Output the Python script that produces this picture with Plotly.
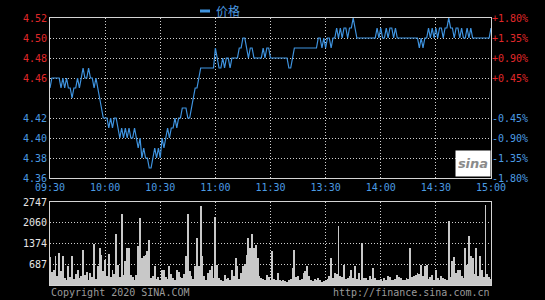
import plotly.graph_objects as go

# ---------------- data ----------------
prev_close = 4.44
time_ticks = [0, 30, 60, 90, 120, 150, 180, 210, 240]
time_labels = ["09:30", "10:00", "10:30", "11:00", "11:30", "13:30", "14:00", "14:30", "15:00"]

price = [
    4.45, 4.46, 4.46, 4.46, 4.46, 4.46, 4.45, 4.46, 4.45, 4.46,
    4.45, 4.45, 4.44, 4.45, 4.45, 4.46, 4.45, 4.46, 4.47, 4.46,
    4.46, 4.47, 4.46, 4.46, 4.45, 4.46, 4.45, 4.44, 4.43, 4.42,
    4.42, 4.42, 4.41, 4.42, 4.41, 4.42, 4.42, 4.41, 4.40, 4.41,
    4.40, 4.41, 4.40, 4.41, 4.40, 4.40, 4.41, 4.40, 4.39, 4.40,
    4.38, 4.39, 4.38, 4.38, 4.37, 4.37, 4.38, 4.39, 4.38, 4.39,
    4.38, 4.40, 4.39, 4.40, 4.41, 4.40, 4.41, 4.41, 4.42, 4.41,
    4.42, 4.42, 4.43, 4.43, 4.43, 4.42, 4.42, 4.43, 4.44, 4.45,
    4.45, 4.46, 4.47, 4.47, 4.47, 4.47, 4.47, 4.47, 4.47, 4.47,
    4.49, 4.48, 4.47, 4.47, 4.48, 4.47, 4.48, 4.48, 4.47, 4.48,
    4.48, 4.48, 4.48, 4.49, 4.49, 4.50, 4.50, 4.49, 4.48, 4.49,
    4.49, 4.48, 4.48, 4.48, 4.48, 4.48, 4.49, 4.48, 4.49, 4.49,
    4.48, 4.48, 4.48, 4.48, 4.48, 4.48, 4.48, 4.48, 4.48, 4.48,
    4.47, 4.47, 4.48, 4.49, 4.49, 4.49, 4.49, 4.49, 4.49, 4.49,
    4.49, 4.49, 4.49, 4.49, 4.49, 4.49, 4.50, 4.50, 4.49, 4.50,
    4.49, 4.50, 4.50, 4.49, 4.50, 4.50, 4.51, 4.50, 4.51, 4.50,
    4.51, 4.51, 4.50, 4.51, 4.51, 4.52, 4.51, 4.50, 4.50, 4.50,
    4.50, 4.50, 4.50, 4.50, 4.50, 4.50, 4.50, 4.50, 4.51, 4.50,
    4.51, 4.50, 4.50, 4.51, 4.50, 4.51, 4.51, 4.50, 4.51, 4.50,
    4.50, 4.50, 4.50, 4.50, 4.50, 4.50, 4.50, 4.50, 4.50, 4.50,
    4.50, 4.49, 4.50, 4.49, 4.50, 4.50, 4.51, 4.50, 4.51, 4.50,
    4.51, 4.50, 4.51, 4.51, 4.50, 4.51, 4.51, 4.52, 4.51, 4.51,
    4.50, 4.51, 4.51, 4.50, 4.51, 4.50, 4.50, 4.51, 4.50, 4.51,
    4.50, 4.50, 4.50, 4.50, 4.50, 4.50, 4.50, 4.50, 4.50, 4.50,
    4.51,
]

volume = [
    915, 420, 507, 950, 300, 1060, 453, 950, 232, 180,
    620, 260, 950, 190, 350, 507, 240, 300, 1170, 342,
    420, 160, 397, 280, 1368, 200, 618, 1225, 1004, 450,
    838, 300, 1037, 260, 507, 380, 1699, 673, 250, 2350,
    320, 783, 1224, 1224, 342, 250, 180, 320, 1280, 2217,
    893, 960, 1004, 1114, 1478, 232, 300, 618, 200, 260,
    150, 507, 507, 280, 200, 618, 350, 240, 180, 507,
    420, 260, 232, 380, 949, 2360, 450, 287, 200, 618,
    1555, 618, 2600, 949, 287, 180, 397, 507, 618, 240,
    2250, 673, 230, 160, 120, 342, 200, 232, 150, 507,
    300, 893, 618, 200, 400, 618, 700, 1004, 1555, 1224,
    1700, 1224, 1335, 893, 300, 232, 200, 150, 342, 260,
    180, 1114, 200, 160, 397, 150, 120, 176, 140, 100,
    176, 200, 563, 1147, 250, 287, 160, 200, 397, 452,
    618, 300, 176, 140, 200, 180, 232, 150, 100, 121,
    160, 200, 300, 893, 232, 400, 350, 1941, 300, 250,
    673, 200, 232, 300, 507, 240, 618, 200, 397, 160,
    1390, 240, 232, 180, 287, 200, 563, 220, 150, 176,
    200, 140, 232, 180, 287, 260, 150, 176, 200, 342,
    260, 232, 180, 150, 232, 200, 1224, 260, 287, 342,
    400, 380, 673, 300, 618, 673, 200, 260, 342, 180,
    507, 220, 160, 300, 232, 200, 176, 2110, 260, 783,
    927, 400, 507, 507, 300, 240, 1224, 673, 1632, 949,
    893, 350, 1224, 300, 949, 507, 280, 2640, 360, 260,
    200,
]

price_ticks = [4.36, 4.38, 4.40, 4.42, 4.44, 4.46, 4.48, 4.50, 4.52]
vol_ticks = [0, 687, 1374, 2060, 2747]

minutes = list(range(len(price)))

# ---------------- styles ----------------
RED = "#e0282a"
BLUE = "#4b9be2"
LINE = "#3f94e0"
BORDER = "#d4d4d4"
GRID = "#d0d0d0"
MONO = "DejaVu Sans Mono, Liberation Mono, monospace"


def colored(txt, c):
    return f'<span style="color:{c}">{txt}</span>'


left_text = []
right_text = []
for p in price_ticks:
    pct = (p / prev_close - 1) * 100
    if abs(p - prev_close) < 1e-9:
        left_text.append("")
        right_text.append("")
    elif p > prev_close:
        left_text.append(colored(f"{p:.2f}", RED))
        right_text.append(colored(f"+{pct:.2f}%", RED))
    else:
        left_text.append(colored(f"{p:.2f}", BLUE))
        right_text.append(colored(f"{pct:.2f}%", BLUE))

vol_text = ["" if v == 0 else str(v) for v in vol_ticks]

W, H = 545, 300
px = lambda x: x / W
py = lambda y: 1 - y / H

fig = go.Figure()
fig.add_trace(go.Scatter(x=minutes, y=price, mode="lines", name="价格",
                         line=dict(color=LINE, width=1.2), xaxis="x", yaxis="y",
                         showlegend=False))
fig.add_trace(go.Scatter(x=minutes, y=price, mode="lines", opacity=0,
                         line=dict(color=LINE, width=0.1), xaxis="x", yaxis="y2",
                         showlegend=False, hoverinfo="skip"))
fig.add_trace(go.Bar(x=minutes, y=volume, marker=dict(color="#c8c8c8", line=dict(width=0)),
                     width=0.5, xaxis="x2", yaxis="y3", showlegend=False))

dom_x = [px(50), px(491)]
common_axis = dict(showline=True, linecolor=BORDER, linewidth=1, mirror=True,
                   zeroline=False, ticks="", gridcolor=GRID, griddash="1px,2px", gridwidth=1,
                   automargin=False)

fig.update_layout(
    width=W, height=H, autosize=False,
    margin=dict(l=0, r=0, t=0, b=0, autoexpand=False),
    paper_bgcolor="#000000", plot_bgcolor="#000000",
    bargap=0,
    xaxis=dict(domain=dom_x, anchor="y", range=[0, 240], tickvals=time_ticks,
               ticktext=time_labels, showgrid=True,
               tickfont=dict(family=MONO, size=10, color=BLUE), **common_axis),
    yaxis=dict(domain=[py(178), py(18)], anchor="x", range=[4.36, 4.52],
               tickvals=price_ticks, ticktext=left_text, showgrid=True,
               tickfont=dict(family=MONO, size=10, color=RED), **common_axis),
    yaxis2=dict(overlaying="y", side="right", anchor="x", range=[4.36, 4.52],
                tickvals=price_ticks, ticktext=right_text, showgrid=False,
                showline=False, zeroline=False, ticks="", automargin=False,
                tickfont=dict(family=MONO, size=10, color=RED)),
    xaxis2=dict(domain=dom_x, anchor="y3", range=[0, 240], tickvals=time_ticks,
                showticklabels=False, showgrid=True, **common_axis),
    yaxis3=dict(domain=[py(285), py(202)], anchor="x2", range=[0, 2747],
                tickvals=vol_ticks, ticktext=vol_text, showgrid=True,
                tickfont=dict(family=MONO, size=10, color="#e6e6e6"), **common_axis),
    shapes=[dict(type="line", xref="paper", yref="paper",
                 x0=px(200), x1=px(210), y0=py(11), y1=py(11),
                 line=dict(color=LINE, width=3))],
    annotations=[
        dict(text="价格", xref="paper", yref="paper", x=px(214), y=py(11),
             xanchor="left", yanchor="middle", showarrow=False,
             font=dict(family="Noto Sans CJK SC", size=12, color=BLUE)),
        dict(text="Copyright 2020 SINA.COM", xref="paper", yref="paper",
             x=px(49), y=py(292), xanchor="left", yanchor="middle", showarrow=False,
             font=dict(family=MONO, size=10, color="#9a9a9a")),
        dict(text="http://finance.sina.com.cn", xref="paper", yref="paper",
             x=px(492), y=py(292), xanchor="right", yanchor="middle", showarrow=False,
             font=dict(family=MONO, size=10, color="#9a9a9a")),
        dict(text="<b><i>sina</i></b>", xref="paper", yref="paper",
             x=px(473), y=py(163), xanchor="center", yanchor="middle", showarrow=False,
             bgcolor="#ffffff", width=30, height=21, borderpad=2,
             font=dict(family="DejaVu Sans", size=13, color="#8a8a8a")),
    ],
)

fig.write_html("out.html")
